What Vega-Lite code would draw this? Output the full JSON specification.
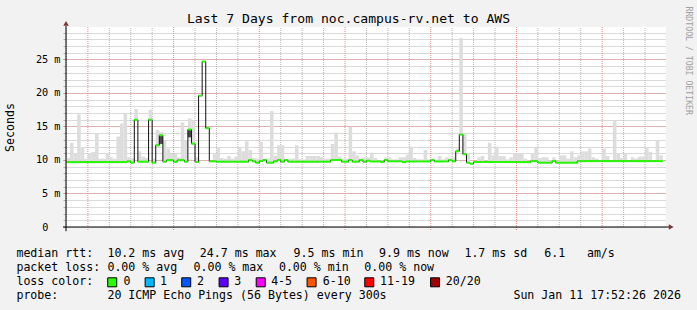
{
 "$schema": "https://vega.github.io/schema/vega-lite/v6.json",
 "autosize": "none",
 "width": 600, "height": 200,
 "padding": {"left": 66, "top": 27, "right": 31, "bottom": 83},
 "background": "#f2f2f2",
 "config": {"view": {"stroke": null}, "font": "DejaVu Sans Mono"},
 "view": {"fill": "#ffffff", "stroke": null},
 "title": {"text": "Last 7 Days from noc.campus-rv.net to AWS", "font": "DejaVu Sans Mono", "fontSize": 13.1, "fontWeight": "normal", "color": "#000000", "anchor": "middle", "frame": "group", "dx": -17.5, "offset": -20},
 "layer": [
  {
   "data": {"values": [
    {"t":"2026-01-04T18:00","m":9.68,"h":10.3},
    {"t":"2026-01-04T19:00","m":9.68,"h":12.56},
    {"t":"2026-01-04T20:00","m":9.68,"h":11.0},
    {"t":"2026-01-04T21:00","m":9.68,"h":16.8},
    {"t":"2026-01-04T22:00","m":9.68,"h":11.9},
    {"t":"2026-01-04T23:00","m":9.68,"h":10.2},
    {"t":"2026-01-05T00:00","m":9.68,"h":11.05},
    {"t":"2026-01-05T01:00","m":9.68,"h":11.2},
    {"t":"2026-01-05T02:00","m":9.68,"h":13.9},
    {"t":"2026-01-05T03:00","m":9.68,"h":10.2},
    {"t":"2026-01-05T04:00","m":9.68,"h":10.2},
    {"t":"2026-01-05T05:00","m":9.68,"h":11.0},
    {"t":"2026-01-05T06:00","m":9.68,"h":10.4},
    {"t":"2026-01-05T07:00","m":9.68,"h":10.2},
    {"t":"2026-01-05T08:00","m":9.68,"h":13.5},
    {"t":"2026-01-05T09:00","m":9.68,"h":15.45},
    {"t":"2026-01-05T10:00","m":9.68,"h":17.0},
    {"t":"2026-01-05T11:00","m":9.8,"h":10.4},
    {"t":"2026-01-05T12:00","m":9.6,"h":10.3},
    {"t":"2026-01-05T13:00","m":16.0,"l":15.9,"h":17.6},
    {"t":"2026-01-05T14:00","m":9.75,"h":11.3},
    {"t":"2026-01-05T15:00","m":9.75,"h":10.5},
    {"t":"2026-01-05T16:00","m":9.75,"h":10.3},
    {"t":"2026-01-05T17:00","m":16.0,"l":15.9,"h":17.5},
    {"t":"2026-01-05T18:00","m":9.6,"h":10.2},
    {"t":"2026-01-05T19:00","m":12.2,"l":12.0,"h":14.5},
    {"t":"2026-01-05T20:00","m":13.7,"l":12.3,"h":14.2,"d1":12.4,"d2":13.6},
    {"t":"2026-01-05T21:00","m":9.75,"h":12.9},
    {"t":"2026-01-05T22:00","m":9.97,"h":11.7},
    {"t":"2026-01-05T23:00","m":9.97,"h":10.9},
    {"t":"2026-01-06T00:00","m":9.72,"h":10.9},
    {"t":"2026-01-06T01:00","m":9.97,"h":10.4},
    {"t":"2026-01-06T02:00","m":9.97,"h":15.6},
    {"t":"2026-01-06T03:00","m":9.75,"h":12.9},
    {"t":"2026-01-06T04:00","m":14.55,"l":13.2,"h":16.2,"d1":13.4,"d2":14.5},
    {"t":"2026-01-06T05:00","m":12.45,"l":12.2,"h":15.9},
    {"t":"2026-01-06T06:00","m":9.7,"h":10.4},
    {"t":"2026-01-06T07:00","m":19.6,"l":19.5,"h":19.7},
    {"t":"2026-01-06T08:00","m":24.7,"l":24.6,"h":24.8},
    {"t":"2026-01-06T09:00","m":14.75,"l":14.6,"h":14.9},
    {"t":"2026-01-06T10:00","m":9.8,"h":9.9},
    {"t":"2026-01-06T11:00","m":9.8,"h":11.0},
    {"t":"2026-01-06T12:00","m":9.75,"h":11.9},
    {"t":"2026-01-06T13:00","m":9.75,"h":10.3},
    {"t":"2026-01-06T14:00","m":9.75,"h":10.2},
    {"t":"2026-01-06T15:00","m":9.75,"h":10.6},
    {"t":"2026-01-06T16:00","m":9.75,"h":10.2},
    {"t":"2026-01-06T17:00","m":9.75,"h":10.5},
    {"t":"2026-01-06T18:00","m":9.75,"h":11.9},
    {"t":"2026-01-06T19:00","m":9.75,"h":11.3},
    {"t":"2026-01-06T20:00","m":9.75,"h":12.8},
    {"t":"2026-01-06T21:00","m":10.0,"h":11.5},
    {"t":"2026-01-06T22:00","m":9.8,"h":10.3},
    {"t":"2026-01-06T23:00","m":9.6,"h":10.2},
    {"t":"2026-01-07T00:00","m":9.85,"h":12.7},
    {"t":"2026-01-07T01:00","m":10.0,"h":10.2},
    {"t":"2026-01-07T02:00","m":9.6,"h":10.2},
    {"t":"2026-01-07T03:00","m":9.6,"h":17.3},
    {"t":"2026-01-07T04:00","m":9.8,"h":10.6},
    {"t":"2026-01-07T05:00","m":10.0,"h":12.2},
    {"t":"2026-01-07T06:00","m":9.75,"h":12.2},
    {"t":"2026-01-07T07:00","m":10.0,"h":10.2},
    {"t":"2026-01-07T08:00","m":9.75,"h":10.2},
    {"t":"2026-01-07T09:00","m":9.75,"h":10.2},
    {"t":"2026-01-07T10:00","m":9.75,"h":12.2},
    {"t":"2026-01-07T11:00","m":9.75,"h":10.1},
    {"t":"2026-01-07T12:00","m":9.75,"h":10.1},
    {"t":"2026-01-07T13:00","m":9.75,"h":10.6},
    {"t":"2026-01-07T14:00","m":9.75,"h":10.6},
    {"t":"2026-01-07T15:00","m":9.75,"h":10.6},
    {"t":"2026-01-07T16:00","m":9.75,"h":10.6},
    {"t":"2026-01-07T17:00","m":9.75,"h":10.4},
    {"t":"2026-01-07T18:00","m":9.75,"h":10.2},
    {"t":"2026-01-07T19:00","m":9.75,"h":10.2},
    {"t":"2026-01-07T20:00","m":10.0,"h":12.4},
    {"t":"2026-01-07T21:00","m":10.0,"h":14.1},
    {"t":"2026-01-07T22:00","m":10.0,"h":10.5},
    {"t":"2026-01-07T23:00","m":9.75,"h":10.2},
    {"t":"2026-01-08T00:00","m":9.75,"h":10.2},
    {"t":"2026-01-08T01:00","m":10.0,"h":14.95},
    {"t":"2026-01-08T02:00","m":9.75,"h":11.3},
    {"t":"2026-01-08T03:00","m":9.75,"h":10.7},
    {"t":"2026-01-08T04:00","m":10.0,"h":10.2},
    {"t":"2026-01-08T05:00","m":9.75,"h":10.4},
    {"t":"2026-01-08T06:00","m":9.9,"h":10.4},
    {"t":"2026-01-08T07:00","m":9.78,"h":11.1},
    {"t":"2026-01-08T08:00","m":9.78,"h":10.3},
    {"t":"2026-01-08T09:00","m":9.78,"h":9.9},
    {"t":"2026-01-08T10:00","m":9.7,"h":9.9},
    {"t":"2026-01-08T11:00","m":10.0,"h":10.4},
    {"t":"2026-01-08T12:00","m":9.8,"h":10.4},
    {"t":"2026-01-08T13:00","m":9.8,"h":10.1},
    {"t":"2026-01-08T14:00","m":9.8,"h":10.1},
    {"t":"2026-01-08T15:00","m":9.8,"h":10.4},
    {"t":"2026-01-08T16:00","m":9.7,"h":10.4},
    {"t":"2026-01-08T17:00","m":9.78,"h":10.8},
    {"t":"2026-01-08T18:00","m":9.78,"h":12.0},
    {"t":"2026-01-08T19:00","m":9.78,"h":10.3},
    {"t":"2026-01-08T20:00","m":9.78,"h":10.1},
    {"t":"2026-01-08T21:00","m":9.78,"h":10.1},
    {"t":"2026-01-08T22:00","m":9.78,"h":11.5},
    {"t":"2026-01-08T23:00","m":9.78,"h":10.1},
    {"t":"2026-01-09T00:00","m":10.0,"h":10.1},
    {"t":"2026-01-09T01:00","m":9.78,"h":10.1},
    {"t":"2026-01-09T02:00","m":9.78,"h":10.6},
    {"t":"2026-01-09T03:00","m":9.78,"h":10.1},
    {"t":"2026-01-09T04:00","m":9.78,"h":10.4},
    {"t":"2026-01-09T05:00","m":10.0,"h":10.2},
    {"t":"2026-01-09T06:00","m":9.8,"h":10.4},
    {"t":"2026-01-09T07:00","m":11.3,"h":11.7},
    {"t":"2026-01-09T08:00","m":13.8,"h":28.2},
    {"t":"2026-01-09T09:00","m":10.87,"h":14.06},
    {"t":"2026-01-09T10:00","m":9.6,"h":10.9},
    {"t":"2026-01-09T11:00","m":9.45,"h":9.6},
    {"t":"2026-01-09T12:00","m":9.7,"h":9.8},
    {"t":"2026-01-09T13:00","m":9.7,"h":10.4},
    {"t":"2026-01-09T14:00","m":9.7,"h":10.6},
    {"t":"2026-01-09T15:00","m":9.7,"h":9.9},
    {"t":"2026-01-09T16:00","m":9.7,"h":12.56},
    {"t":"2026-01-09T17:00","m":9.7,"h":10.7},
    {"t":"2026-01-09T18:00","m":9.7,"h":12.0},
    {"t":"2026-01-09T19:00","m":9.7,"h":10.6},
    {"t":"2026-01-09T20:00","m":9.7,"h":10.6},
    {"t":"2026-01-09T21:00","m":9.7,"h":10.1},
    {"t":"2026-01-09T22:00","m":9.7,"h":10.4},
    {"t":"2026-01-09T23:00","m":9.7,"h":10.9},
    {"t":"2026-01-10T00:00","m":9.68,"h":11.05},
    {"t":"2026-01-10T01:00","m":9.68,"h":11.05},
    {"t":"2026-01-10T02:00","m":9.68,"h":10.2},
    {"t":"2026-01-10T03:00","m":9.68,"h":9.9},
    {"t":"2026-01-10T04:00","m":9.83,"h":11.05},
    {"t":"2026-01-10T05:00","m":9.83,"h":11.9},
    {"t":"2026-01-10T06:00","m":9.6,"h":10.3},
    {"t":"2026-01-10T07:00","m":9.6,"h":10.4},
    {"t":"2026-01-10T08:00","m":9.6,"h":10.4},
    {"t":"2026-01-10T09:00","m":9.6,"h":9.9},
    {"t":"2026-01-10T10:00","m":9.85,"h":10.4},
    {"t":"2026-01-10T11:00","m":9.6,"h":9.9},
    {"t":"2026-01-10T12:00","m":9.6,"h":10.7},
    {"t":"2026-01-10T13:00","m":9.6,"h":10.7},
    {"t":"2026-01-10T14:00","m":9.6,"h":10.2},
    {"t":"2026-01-10T15:00","m":9.6,"h":11.3},
    {"t":"2026-01-10T16:00","m":9.6,"h":10.4},
    {"t":"2026-01-10T17:00","m":9.83,"h":10.7},
    {"t":"2026-01-10T18:00","m":9.83,"h":11.3},
    {"t":"2026-01-10T19:00","m":9.83,"h":11.3},
    {"t":"2026-01-10T20:00","m":9.83,"h":11.7},
    {"t":"2026-01-10T21:00","m":9.83,"h":10.4},
    {"t":"2026-01-10T22:00","m":9.83,"h":10.2},
    {"t":"2026-01-10T23:00","m":9.83,"h":9.9},
    {"t":"2026-01-11T00:00","m":9.83,"h":11.7},
    {"t":"2026-01-11T01:00","m":9.83,"h":10.6},
    {"t":"2026-01-11T02:00","m":9.83,"h":9.9},
    {"t":"2026-01-11T03:00","m":9.83,"h":15.8},
    {"t":"2026-01-11T04:00","m":9.83,"h":11.05},
    {"t":"2026-01-11T05:00","m":9.83,"h":10.3},
    {"t":"2026-01-11T06:00","m":9.83,"h":11.0},
    {"t":"2026-01-11T07:00","m":9.83,"h":9.9},
    {"t":"2026-01-11T08:00","m":9.83,"h":10.4},
    {"t":"2026-01-11T09:00","m":9.83,"h":10.2},
    {"t":"2026-01-11T10:00","m":9.83,"h":10.5},
    {"t":"2026-01-11T11:00","m":9.83,"h":10.5},
    {"t":"2026-01-11T12:00","m":9.83,"h":11.9},
    {"t":"2026-01-11T13:00","m":9.83,"h":11.2},
    {"t":"2026-01-11T14:00","m":9.83,"h":9.9},
    {"t":"2026-01-11T15:00","m":9.83,"h":12.96},
    {"t":"2026-01-11T16:00","m":9.83,"h":10.7},
    {"t":"2026-01-11T17:00"}
   ], "format": {"parse": {"t": "date"}}},
   "transform": [{"window": [{"op": "lead", "field": "t", "as": "t2"}], "sort": [{"field": "t"}]}],
   "layer": [
    {
     "transform": [{"filter": {"field": "t", "timeUnit": "hours", "oneOf": [6, 12, 18]}}],
     "mark": {"type": "rule", "color": "#b4b4b4", "strokeWidth": 1, "strokeDash": [1, 1]},
     "encoding": {
      "x": {"field": "t", "type": "temporal", "axis": null},
      "y": {"datum": 0, "type": "quantitative", "axis": null},
      "y2": {"datum": 29.85}
     }
    },
    {
     "transform": [{"filter": {"field": "t", "timeUnit": "hours", "equal": 0}}],
     "mark": {"type": "rule", "color": "#e58a8a", "strokeWidth": 1, "strokeDash": [1, 1]},
     "encoding": {
      "x": {"field": "t", "type": "temporal", "axis": null},
      "y": {"datum": -0.45, "type": "quantitative", "axis": null},
      "y2": {"datum": 29.85}
     }
    },
    {
     "mark": {"type": "rect", "color": "#dddddd"},
     "encoding": {
      "x": {"field": "t", "type": "temporal",
       "scale": {"domain": [{"year":2026,"month":1,"date":4,"hours":17,"minutes":52,"seconds":26},{"year":2026,"month":1,"date":11,"hours":17,"minutes":52,"seconds":26}], "nice": false},
       "axis": {"orient": "bottom", "title": null, "tickCount": {"interval": "hour", "step": 6},
        "labelExpr": "hours(datum.value) === 12 ? timeFormat(datum.value, '%a %d %b') : ''",
        "labelOverlap": false, "labelFlush": false, "labelBound": false,
        "grid": false, "ticks": false, "domain": false,
        "labelFont": "DejaVu Sans Mono", "labelFontSize": 10.2, "labelColor": "#000000", "labelPadding": 5}},
      "x2": {"field": "t2"},
      "y": {"field": "m", "type": "quantitative",
       "scale": {"domain": [0, 29.85], "nice": false, "zero": true},
       "axis": {"orient": "left", "values": [0,1,2,3,4,6,7,8,9,11,12,13,14,16,17,18,19,21,22,23,24,26,27,28,29,5,10,15,20,25],
        "labelExpr": "datum.value % 5 === 0 ? (datum.value === 0 ? '0' : datum.value + ' m') : ''",
        "labelOverlap": false, "labelBound": false, "labelFlush": false,
        "grid": true, "gridDash": [1, 1], "gridColor": "#b4b4b4", "gridOpacity": 1,
        "ticks": true, "tickSize": 3, "tickColor": "#b4b4b4",
        "domain": false,
        "labelFont": "DejaVu Sans Mono", "labelFontSize": 10.2, "labelColor": "#000000",
        "labelPadding": {"condition": {"test": "datum.value === 0", "value": 15}, "value": 3},
        "title": "Seconds", "titleFont": "DejaVu Sans Mono", "titleFontSize": 11.6, "titleFontWeight": "normal", "titleColor": "#000000", "titlePadding": 20}},
      "y2": {"field": "h"}
     }
    },
    {
     "mark": {"type": "rect", "color": "#dddddd"},
     "encoding": {
      "x": {"field": "t", "type": "temporal", "axis": null},
      "x2": {"field": "t2"},
      "y": {"field": "l", "type": "quantitative", "axis": null},
      "y2": {"field": "m"}
     }
    },
    {
     "mark": {"type": "rect", "color": "#4a4a4a"},
     "encoding": {
      "x": {"field": "t", "type": "temporal", "axis": null},
      "x2": {"field": "t2"},
      "y": {"field": "d1", "type": "quantitative", "axis": null},
      "y2": {"field": "d2"}
     }
    },
    {
     "mark": {"type": "line", "interpolate": "step-after", "color": "#101010", "strokeWidth": 1},
     "encoding": {
      "x": {"field": "t", "type": "temporal", "axis": null},
      "y": {"field": "m", "type": "quantitative",
       "axis": {"orient": "right", "labels": false, "ticks": false, "domain": false, "grid": false,
        "title": "RRDTOOL / TOBI OETIKER", "titleAngle": 90, "titleFont": "DejaVu Sans Mono", "titleFontSize": 8.2,
        "titleFontWeight": "normal", "titleColor": "#a0a0a0", "titleX": 21.5, "titleY": -21, "titleAlign": "left", "titleBaseline": "middle"}}
     }
    },
    {
     "mark": {"type": "rule", "color": "#26ff00", "strokeWidth": 2},
     "encoding": {
      "x": {"field": "t", "type": "temporal", "axis": null},
      "x2": {"field": "t2"},
      "y": {"field": "m", "type": "quantitative",
       "axis": {"orient": "left", "values": [5, 10, 15, 20, 25], "labels": false, "title": null,
        "grid": true, "gridDash": [1, 1], "gridColor": "#e58a8a", "gridOpacity": 1,
        "ticks": true, "tickSize": 3, "tickColor": "#e58a8a", "domain": false}}
     }
    },
    {
     "data": {"values": [{}]},
     "mark": {"type": "rule", "color": "#000000", "strokeWidth": 1},
     "encoding": {
      "x": {"datum": {"year":2026,"month":1,"date":4,"hours":17,"minutes":2}, "type": "temporal", "axis": null},
      "x2": {"datum": {"year":2026,"month":1,"date":11,"hours":19,"minutes":0}},
      "y": {"datum": 0, "type": "quantitative", "axis": null}
     }
    },
    {
     "data": {"values": [{}]},
     "mark": {"type": "rule", "color": "#000000", "strokeWidth": 1},
     "encoding": {
      "x": {"datum": {"year":2026,"month":1,"date":4,"hours":17,"minutes":52,"seconds":26}, "type": "temporal", "axis": null},
      "y": {"datum": -0.63, "type": "quantitative", "axis": null},
      "y2": {"datum": 30.0}
     }
    },
    {
     "data": {"values": [{}]},
     "mark": {"type": "point", "shape": "triangle-up", "filled": true, "size": 30, "color": "#803333", "opacity": 1},
     "encoding": {
      "x": {"datum": {"year":2026,"month":1,"date":4,"hours":17,"minutes":52,"seconds":26}, "type": "temporal", "axis": null},
      "y": {"datum": 30.4, "type": "quantitative", "axis": null}
     }
    },
    {
     "data": {"values": [{}]},
     "mark": {"type": "point", "shape": "triangle-right", "filled": true, "size": 30, "color": "#803333", "opacity": 1},
     "encoding": {
      "x": {"datum": {"year":2026,"month":1,"date":11,"hours":19,"minutes":20}, "type": "temporal", "axis": null},
      "y": {"datum": 0, "type": "quantitative", "axis": null}
     }
    }
   ],
   "resolve": {"axis": {"y": "independent"}}
  },
  {
   "layer": [
    {
     "data": {"values": [
      {"r":1,"c":0,"s":"median rtt:"},
      {"r":1,"c":13.0,"s":"10.2 ms avg"},
      {"r":1,"c":26.2,"s":"24.7 ms max"},
      {"r":1,"c":39.6,"s":"9.5 ms min"},
      {"r":1,"c":51.8,"s":"9.9 ms now"},
      {"r":1,"c":64.0,"s":"1.7 ms sd"},
      {"r":1,"c":75.4,"s":"6.1"},
      {"r":1,"c":81.5,"s":"am/s"},
      {"r":2,"c":0,"s":"packet loss:"},
      {"r":2,"c":13.0,"s":"0.00 % avg"},
      {"r":2,"c":25.3,"s":"0.00 % max"},
      {"r":2,"c":37.5,"s":"0.00 % min"},
      {"r":2,"c":49.7,"s":"0.00 % now"},
      {"r":3,"c":0,"s":"loss color:"},
      {"r":3,"c":15.31,"s":"0"},
      {"r":3,"c":20.51,"s":"1"},
      {"r":3,"c":25.79,"s":"2"},
      {"r":3,"c":31.11,"s":"3"},
      {"r":3,"c":36.39,"s":"4-5"},
      {"r":3,"c":43.76,"s":"6-10"},
      {"r":3,"c":51.94,"s":"11-19"},
      {"r":3,"c":61.34,"s":"20/20"},
      {"r":4,"c":0,"s":"probe:"},
      {"r":4,"c":13.0,"s":"20 ICMP Echo Pings (56 Bytes) every 300s"},
      {"r":4,"c":71.0,"s":"Sun Jan 11 17:52:26 2026"}
     ]},
     "mark": {"type": "text", "align": "left", "baseline": "middle", "font": "DejaVu Sans Mono", "fontSize": 11.6, "color": "#000000"},
     "encoding": {
      "x": {"field": "c", "type": "quantitative", "scale": {"domain": [7.0857, 92.8], "nice": false, "zero": false}, "axis": null},
      "y": {"field": "r", "type": "quantitative", "scale": {"domain": [-15.236, -0.95], "reverse": true, "nice": false, "zero": false}, "axis": null},
      "text": {"field": "s"}
     }
    },
    {
     "data": {"values": [
      {"r":3,"c":13.69,"k":"0"},
      {"r":3,"c":19.03,"k":"1"},
      {"r":3,"c":24.26,"k":"2"},
      {"r":3,"c":29.6,"k":"3"},
      {"r":3,"c":34.9,"k":"4-5"},
      {"r":3,"c":42.17,"k":"6-10"},
      {"r":3,"c":50.41,"k":"11-19"},
      {"r":3,"c":59.81,"k":"20/20"}
     ]},
     "mark": {"type": "point", "shape": "square", "filled": true, "size": 81, "stroke": "#000000", "strokeWidth": 1, "opacity": 1},
     "encoding": {
      "x": {"field": "c", "type": "quantitative", "axis": null},
      "y": {"field": "r", "type": "quantitative", "axis": null},
      "color": {"field": "k", "type": "nominal", "legend": null,
       "scale": {"domain": ["0","1","2","3","4-5","6-10","11-19","20/20"], "range": ["#26ff00","#00b8ff","#0059ff","#5e00ff","#ff00ff","#ff5500","#ff0000","#a10000"]}}
     }
    }
   ]
  }
 ],
 "resolve": {"scale": {"x": "independent", "y": "independent"}}
}
